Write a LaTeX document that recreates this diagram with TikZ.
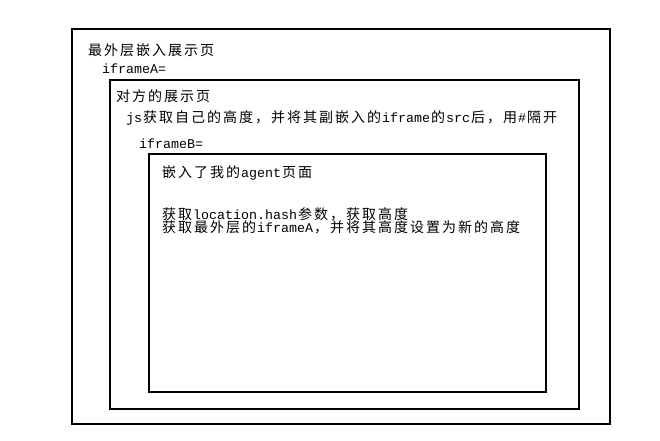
\documentclass[tikz,border=0pt]{standalone}
\usepackage{fontspec}
\setmainfont{Noto Sans CJK SC}
\newfontfamily\lat[Scale=0.952]{Liberation Mono}
\makeatletter
\newcommand\zh[1]{\zh@loop#1\relax}
\def\zh@loop#1{\ifx#1\relax\else\makebox[16pt][c]{#1}\expandafter\zh@loop\fi}
\makeatother
\begin{document}
\begin{tikzpicture}[x=1pt,y=-1pt,
  txt/.style={anchor=base west, inner sep=0pt, font=\fontsize{14}{14}\selectfont},
  frame/.style={draw=black, line width=1.2pt}]
\useasboundingbox (0,0) rectangle (660,440);
\fill[white] (0,0) rectangle (660,440);
% frames
\coordinate (oTL) at (72,29);   \coordinate (oBR) at (610,424);
\coordinate (mTL) at (110,80);  \coordinate (mBR) at (579,409);
\coordinate (iTL) at (149,154); \coordinate (iBR) at (546,392);
\draw[frame] (oTL) rectangle (oBR);
\draw[frame] (mTL) rectangle (mBR);
\draw[frame] (iTL) rectangle (iBR);
% texts
\node[txt] (t1) at (87,55.3) {\zh{最外层嵌入展示页}};
\node[txt] (t2) at (102,73) {{\lat iframeA=}};
\node[txt] (t3) at (115,101.8) {\zh{对方的展示页}};
\node[txt] (t4) at (126,122.3) {{\lat js}\zh{获取自己的高度，并将其副嵌入的}{\lat iframe}\zh{的}{\lat src}\zh{后，用}{\lat \#}\zh{隔开}};
\node[txt] (t5) at (139,148) {{\lat iframeB=}};
\node[txt] (t6) at (161,177.3) {\zh{嵌入了我的}{\lat agent}\zh{页面}};
\node[txt] (t7) at (161,219.3) {\zh{获取}{\lat location.hash}\zh{参数，获取高度}};
\node[txt] (t8) at (161,232.8) {\zh{获取最外层的}{\lat iframeA}\zh{，并将其高度设置为新的高度}};
\end{tikzpicture}
\end{document}
